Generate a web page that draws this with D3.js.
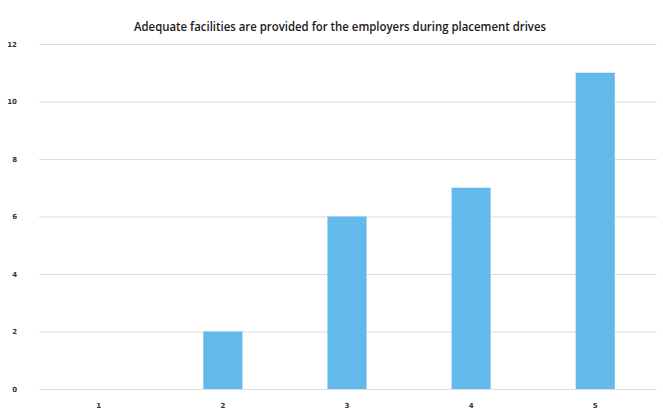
<!DOCTYPE html>
<html><head><meta charset="utf-8">
<script src="https://cdn.jsdelivr.net/npm/d3@7"></script>
<style>body{margin:0;background:#fff}svg{display:block}</style>
</head><body>
<svg id="c" width="663" height="415"></svg>
<script>
const title = "Adequate facilities are provided for the employers during placement drives";
const categories = ["1","2","3","4","5"];
const values = [0, 2, 6, 7, 11];
const yTicks = [0,2,4,6,8,10,12];

const svg = d3.select("#c");
const m = {left:37, right:6, top:44, bottom:26};
const W = 663, H = 415;
const x = d3.scaleBand().domain(categories).range([m.left, W - m.right]).paddingInner(0.685).paddingOuter(0.34);
const y = d3.scaleLinear().domain([0,12]).range([H - m.bottom, m.top]);

svg.append("text").attr("x", 340).attr("y", 31).attr("text-anchor","middle")
  .attr("font-family","Open Sans, Liberation Sans, sans-serif").attr("font-size",12.5).attr("font-weight",600).attr("fill","#1a1a1a")
  .attr("textLength", 412).attr("lengthAdjust","spacingAndGlyphs").text(title);

const gy = svg.append("g").attr("transform",`translate(${m.left},0)`)
  .call(d3.axisLeft(y).tickValues(yTicks).tickSize(-(W - m.right - m.left - 2)).tickPadding(20));
gy.select(".domain").remove();
gy.selectAll(".tick line").attr("stroke","#dcdcdc").attr("stroke-width",1).attr("transform","translate(2,0)");
gy.selectAll(".tick text").attr("font-family","DejaVu Sans, sans-serif").attr("font-size",7).attr("font-weight","bold").attr("fill","#333");

svg.append("g").selectAll("rect").data(values).join("rect")
  .attr("x",(d,i)=>x(categories[i])).attr("width",x.bandwidth())
  .attr("y",d=>y(d)).attr("height",d=>y(0)-y(d)).attr("fill","#63b8ec");

const gx = svg.append("g").attr("transform",`translate(0,${H - m.bottom})`)
  .call(d3.axisBottom(x).tickSize(0).tickPadding(14));
gx.select(".domain").remove();
gx.selectAll(".tick text").attr("font-family","DejaVu Sans, sans-serif").attr("font-size",7).attr("font-weight","bold").attr("fill","#333");
</script>
</body></html>
